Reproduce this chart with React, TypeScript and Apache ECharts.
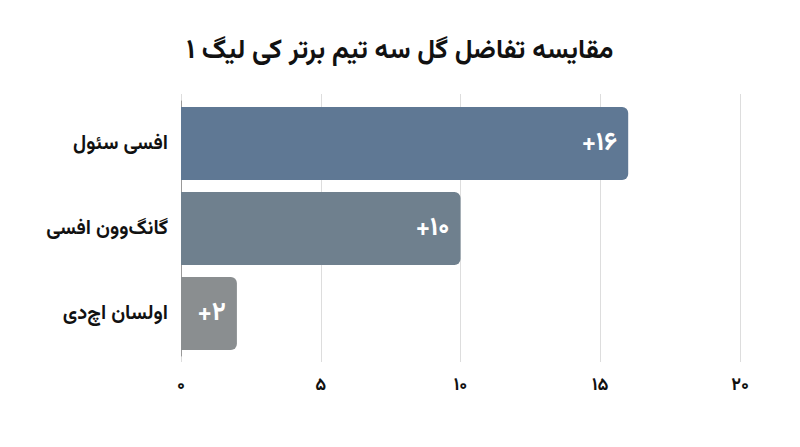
import { useEffect, useRef } from 'react';
import * as echarts from 'echarts';

// Team names (top to bottom) and goal difference
const teams = ['افسی سئول', 'گانگ‌وون افسی', 'اولسان اچ‌دی'];
const goalDiff = [16, 10, 2];
const barLabels = ['+۱۶', '+۱۰', '+۲'];
const barColors = ['#5f7894', '#6f808e', '#8a8e90'];
const tickLabels: Record<number, string> = { 0: '۰', 5: '۵', 10: '۱۰', 15: '۱۵', 20: '۲۰' };

const FONT = "Vazirmatn, 'DejaVu Sans', sans-serif";

const App: React.FC = () => {
    const chartRef = useRef<HTMLDivElement>(null);

    useEffect(() => {
        if (!chartRef.current) return;
        const chart = echarts.init(chartRef.current, undefined, { renderer: 'svg' });

        chart.setOption({
            animation: false,
            backgroundColor: '#ffffff',
            title: {
                text: 'مقایسه تفاضل گل سه تیم برتر کی لیگ ۱',
                left: 'center',
                top: 33,
                textStyle: { fontSize: 27, fontWeight: 'bold', color: '#111', fontFamily: FONT }
            },
            grid: [
                // grid 0 only draws the split lines and value labels
                { left: 181, right: 60, top: 94, bottom: 85 },
                // grid 1 holds the bars
                { left: 181, right: 60, top: 101, height: 255 }
            ],
            xAxis: [
                {
                    gridIndex: 0,
                    type: 'value',
                    min: 0,
                    max: 20,
                    interval: 5,
                    axisLine: { show: false },
                    axisTick: { show: false },
                    axisLabel: {
                        margin: 15,
                        fontSize: 18,
                        fontWeight: 'bold',
                        color: '#111',
                        fontFamily: FONT,
                        formatter: (v: number) => tickLabels[v] ?? String(v)
                    },
                    splitLine: { lineStyle: { color: '#dddddd', width: 1 } }
                },
                {
                    gridIndex: 1,
                    type: 'value',
                    min: 0,
                    max: 20,
                    show: false,
                    splitLine: { show: false }
                }
            ],
            yAxis: [
                { gridIndex: 0, type: 'category', data: teams, inverse: true, show: false },
                {
                    gridIndex: 1,
                    type: 'category',
                    data: teams,
                    inverse: true,
                    axisLine: { show: true, lineStyle: { color: '#999', width: 1 } },
                    axisTick: { show: false },
                    axisLabel: {
                        margin: 13,
                        fontSize: 20,
                        fontWeight: 'bold',
                        color: '#111',
                        fontFamily: FONT
                    }
                }
            ],
            series: [
                {
                    type: 'bar',
                    xAxisIndex: 1,
                    yAxisIndex: 1,
                    barWidth: 73,
                    data: goalDiff.map((v, i) => ({
                        value: v,
                        itemStyle: { color: barColors[i], borderRadius: [0, 6, 6, 0] },
                        label: { formatter: barLabels[i] }
                    })),
                    label: {
                        show: true,
                        position: 'insideRight',
                        distance: 11,
                        color: '#ffffff',
                        fontSize: 26,
                        fontWeight: 'bold',
                        fontFamily: FONT
                    }
                }
            ]
        });

        return () => {
            chart.dispose();
        };
    }, []);

    return (
        <div
            ref={chartRef}
            style={{ position: 'fixed', left: 0, top: 0, width: '800px', height: '447px' }}
        />
    );
};

export default App;
